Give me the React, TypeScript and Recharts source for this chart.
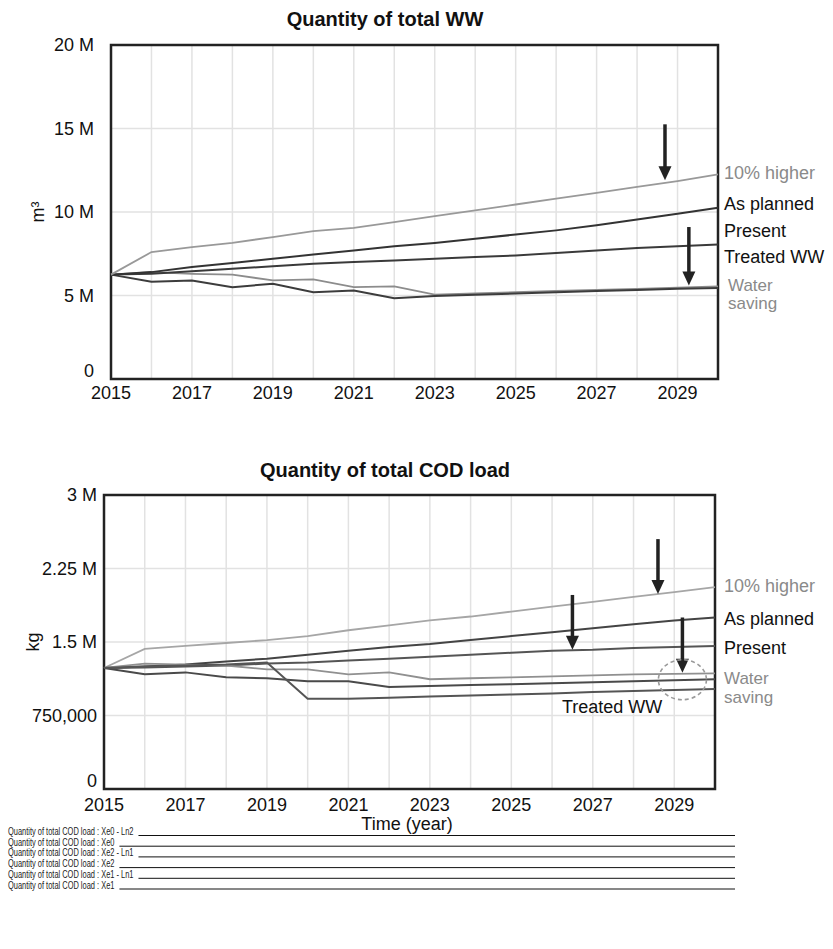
import React from 'react';
import {
  LineChart,
  Line,
  XAxis,
  YAxis,
  CartesianGrid,
  ReferenceArea,
  ReferenceLine,
  ReferenceDot,
} from 'recharts';

// ---------- shared categories ----------
const years = [2015, 2016, 2017, 2018, 2019, 2020, 2021, 2022, 2023, 2024, 2025, 2026, 2027, 2028, 2029, 2030];
const yearTickLabels = ['2015', '', '2017', '', '2019', '', '2021', '', '2023', '', '2025', '', '2027', '', '2029', ''];

// ---------- top chart: Quantity of total WW (m3) ----------
const wwHigher = [6.25e6, 7.6e6, 7.9e6, 8.15e6, 8.5e6, 8.85e6, 9.05e6, 9.4e6, 9.75e6, 10.1e6, 10.45e6, 10.8e6, 11.15e6, 11.5e6, 11.85e6, 12.25e6];
const wwPlanned = [6.25e6, 6.4e6, 6.7e6, 6.95e6, 7.2e6, 7.45e6, 7.7e6, 7.95e6, 8.15e6, 8.4e6, 8.65e6, 8.9e6, 9.2e6, 9.55e6, 9.9e6, 10.25e6];
const wwPresent = [6.25e6, 6.3e6, 6.45e6, 6.6e6, 6.75e6, 6.9e6, 7.0e6, 7.1e6, 7.2e6, 7.3e6, 7.4e6, 7.55e6, 7.7e6, 7.85e6, 7.95e6, 8.05e6];
const wwSavingA = [6.25e6, 6.4e6, 6.3e6, 6.25e6, 5.9e6, 5.97e6, 5.5e6, 5.55e6, 5.05e6, 5.12e6, 5.2e6, 5.27e6, 5.33e6, 5.4e6, 5.47e6, 5.55e6];
const wwSavingB = [6.25e6, 5.82e6, 5.9e6, 5.5e6, 5.7e6, 5.2e6, 5.3e6, 4.84e6, 4.97e6, 5.05e6, 5.12e6, 5.2e6, 5.27e6, 5.33e6, 5.4e6, 5.45e6];
const wwYTicks = [0, 5e6, 10e6, 15e6, 20e6];
const wwYTickLabels = ['0', '5 M', '10 M', '15 M', '20 M'];

// ---------- bottom chart: Quantity of total COD load (kg) ----------
const codNames = [
  'Quantity of total COD load : Xe0 - Ln2',
  'Quantity of total COD load : Xe0',
  'Quantity of total COD load : Xe2 - Ln1',
  'Quantity of total COD load : Xe2',
  'Quantity of total COD load : Xe1 - Ln1',
  'Quantity of total COD load : Xe1',
];
const codXe0Ln2 = [1.235e6, 1.43e6, 1.46e6, 1.49e6, 1.52e6, 1.56e6, 1.62e6, 1.67e6, 1.72e6, 1.76e6, 1.81e6, 1.86e6, 1.91e6, 1.96e6, 2.01e6, 2.06e6];
const codXe0 = [1.235e6, 1.25e6, 1.27e6, 1.3e6, 1.33e6, 1.37e6, 1.41e6, 1.45e6, 1.48e6, 1.52e6, 1.56e6, 1.6e6, 1.64e6, 1.68e6, 1.72e6, 1.75e6];
const codXe2Ln1 = [1.235e6, 1.24e6, 1.25e6, 1.26e6, 1.28e6, 1.29e6, 1.31e6, 1.33e6, 1.35e6, 1.37e6, 1.39e6, 1.41e6, 1.42e6, 1.44e6, 1.45e6, 1.46e6];
const codXe2 = [1.235e6, 1.28e6, 1.27e6, 1.26e6, 1.22e6, 1.22e6, 1.17e6, 1.19e6, 1.12e6, 1.13e6, 1.14e6, 1.15e6, 1.16e6, 1.17e6, 1.175e6, 1.18e6];
const codXe1Ln1 = [1.235e6, 1.17e6, 1.19e6, 1.14e6, 1.13e6, 1.1e6, 1.1e6, 1.04e6, 1.05e6, 1.06e6, 1.07e6, 1.08e6, 1.09e6, 1.1e6, 1.11e6, 1.12e6];
const codXe1 = [1.235e6, 1.25e6, 1.26e6, 1.27e6, 1.29e6, 0.92e6, 0.92e6, 0.93e6, 0.945e6, 0.955e6, 0.965e6, 0.975e6, 0.99e6, 1.0e6, 1.01e6, 1.02e6];
const codYTicks = [0, 750000, 1.5e6, 2.25e6, 3e6];
const codYTickLabels = ['0', '750,000', '1.5 M', '2.25 M', '3 M'];

// ---------- annotations (arrows: year, top value, tip value) ----------
const wwArrowYears = [2028.69, 2029.28];
const wwArrowTops = [15.25e6, 9.1e6];
const wwArrowTips = [11.9e6, 5.6e6];
const codArrowYears = [2028.6, 2026.5, 2029.2];
const codArrowTops = [2.55e6, 1.98e6, 1.75e6];
const codArrowTips = [1.99e6, 1.42e6, 1.185e6];
const codCircleYear = 2029.2;
const codCircleValue = 1.115e6;

const FONT = '"Liberation Sans", Arial, Helvetica, sans-serif';

const wwData = years.map((y, i) => ({
  year: y,
  higher: wwHigher[i],
  planned: wwPlanned[i],
  present: wwPresent[i],
  savingA: wwSavingA[i],
  savingB: wwSavingB[i],
}));

const codData = years.map((y, i) => ({
  year: y,
  s0: codXe0Ln2[i],
  s1: codXe0[i],
  s2: codXe2Ln1[i],
  s3: codXe2[i],
  s4: codXe1Ln1[i],
  s5: codXe1[i],
}));

const codSeries = [
  { key: 's0', color: '#a6a6a6', width: 1.8 },
  { key: 's1', color: '#444444', width: 2 },
  { key: 's2', color: '#555555', width: 2 },
  { key: 's3', color: '#909090', width: 1.8 },
  { key: 's4', color: '#4a4a4a', width: 2 },
  { key: 's5', color: '#555555', width: 2 },
];

const yearFmt = (v: number) => {
  const i = years.indexOf(v);
  return i >= 0 ? yearTickLabels[i] : '';
};

const makeYTick = (ticks: number[], labels: string[]) => (props: any) => {
  const { x, y, payload } = props;
  const i = ticks.indexOf(payload.value);
  const label = i >= 0 ? labels[i] : '';
  const shift = payload.value === 0 ? -8 : 0;
  return (
    <text x={x} y={y + shift} dy="0.355em" textAnchor="end" fontSize={18} fill="#111" fontFamily={FONT}>
      {label}
    </text>
  );
};
const wwYTick = makeYTick(wwYTicks, wwYTickLabels);
const codYTick = makeYTick(codYTicks, codYTickLabels);

const arrowShape = (p: any) => (
  <g>
    <line x1={p.x1} y1={p.y1} x2={p.x2} y2={p.y2 - 11} stroke="#222" strokeWidth={3.5} />
    <path d={`M${p.x2 - 6.5},${p.y2 - 14} L${p.x2 + 6.5},${p.y2 - 14} L${p.x2},${p.y2} Z`} fill="#222" />
  </g>
);

const circleShape = (p: any) => (
  <ellipse cx={p.cx} cy={p.cy} rx={24} ry={20} fill="none" stroke="#9a9a9a" strokeWidth={1.6} strokeDasharray="4 3" />
);

const tickStyle = { fontSize: 18, fill: '#111', fontFamily: FONT };

const absText = (
  text: string,
  left: number,
  top: number,
  style: React.CSSProperties = {}
) => (
  <div
    style={{
      position: 'absolute',
      left,
      top,
      transform: 'translateY(-50%)',
      fontFamily: FONT,
      fontSize: 18,
      color: '#111',
      whiteSpace: 'nowrap',
      lineHeight: 1,
      ...style,
    }}
  >
    {text}
  </div>
);

// legend text is a condensed face: measure in Arial and squeeze horizontally
const LEGEND_FONT_SIZE = 10;
const LEGEND_SQUEEZE = 0.745;
const LEGEND_ROW = 10.7;
const LEGEND_LEFT = 8;
const LEGEND_RIGHT = 735;
let measureCtx: CanvasRenderingContext2D | null = null;
const measureText = (t: string) => {
  if (typeof document === 'undefined') return t.length * 5;
  if (!measureCtx) measureCtx = document.createElement('canvas').getContext('2d');
  if (!measureCtx) return t.length * 5;
  measureCtx.font = `${LEGEND_FONT_SIZE}px "Liberation Sans", Arial, sans-serif`;
  return measureCtx.measureText(t).width;
};

const LegendBlock = () => (
  <svg width={833} height={70} style={{ position: 'absolute', left: 0, top: 826 }}>
    {codNames.map((n, i) => {
      const w = measureText(n) * LEGEND_SQUEEZE;
      const base = 9 + i * LEGEND_ROW;
      return (
        <g key={n}>
          <text
            x={LEGEND_LEFT}
            y={base}
            fontSize={LEGEND_FONT_SIZE}
            fontFamily={FONT}
            fill="#222"
            textLength={w}
            lengthAdjust="spacingAndGlyphs"
          >
            {n}
          </text>
          <line x1={LEGEND_LEFT + w + 5} x2={LEGEND_RIGHT} y1={base + 0.5} y2={base + 0.5} stroke="#111" strokeWidth={1} />
        </g>
      );
    })}
  </svg>
);

export default function App() {
  return (
    <div style={{ position: 'absolute', left: 0, top: 0, width: 833, height: 949, background: '#fff', overflow: 'hidden' }}>
      {/* ---------- Top chart ---------- */}
      <div style={{ position: 'absolute', left: 0, top: 0 }}>
        <LineChart width={833} height={420} data={wwData} margin={{ top: 45, right: 115, left: 51, bottom: 11 }}>
          <CartesianGrid stroke="#e2e2e2" strokeWidth={1.5} />
          <XAxis
            dataKey="year"
            type="number"
            domain={[2015, 2030]}
            ticks={years}
            interval={0}
            tickFormatter={yearFmt}
            tickLine={false}
            axisLine={false}
            tickSize={0}
            tickMargin={7}
            height={30}
            tick={tickStyle}
          />
          <YAxis
            type="number"
            domain={[0, 20e6]}
            ticks={wwYTicks}
            interval={0}
            tickLine={false}
            axisLine={false}
            tickSize={0}
            tickMargin={17}
            width={60}
            tick={wwYTick}
          />
          <Line dataKey="savingA" stroke="#8c8c8c" strokeWidth={1.8} dot={false} isAnimationActive={false} />
          <Line dataKey="savingB" stroke="#3c3c3c" strokeWidth={2} dot={false} isAnimationActive={false} />
          <Line dataKey="present" stroke="#3a3a3a" strokeWidth={2} dot={false} isAnimationActive={false} />
          <Line dataKey="planned" stroke="#333333" strokeWidth={2} dot={false} isAnimationActive={false} />
          <Line dataKey="higher" stroke="#999999" strokeWidth={1.8} dot={false} isAnimationActive={false} />
          <ReferenceArea x1={2015} x2={2030} y1={0} y2={20e6} fill="none" fillOpacity={0} stroke="#222" strokeWidth={2.5} ifOverflow="visible" />
          {wwArrowYears.map((yr, i) => (
            <ReferenceLine
              key={'wa' + i}
              segment={[
                { x: yr, y: wwArrowTops[i] },
                { x: yr, y: wwArrowTips[i] },
              ]}
              shape={arrowShape}
              ifOverflow="visible"
            />
          ))}
        </LineChart>
      </div>

      {absText('Quantity of total WW', 385, 19, { fontWeight: 'bold', fontSize: 20, transform: 'translate(-50%, -50%)' })}
      <div
        style={{
          position: 'absolute',
          left: 38,
          top: 212,
          transform: 'translate(-50%, -50%) rotate(-90deg)',
          fontFamily: FONT,
          fontSize: 18,
          color: '#111',
          lineHeight: 1,
        }}
      >
        m³
      </div>
      {absText('10% higher', 724, 173, { color: '#8a8a8a' })}
      {absText('As planned', 724, 204)}
      {absText('Present', 724, 231)}
      {absText('Treated WW', 724, 257)}
      {absText('Water', 728, 285, { color: '#8a8a8a', fontSize: 17 })}
      {absText('saving', 728, 303, { color: '#8a8a8a', fontSize: 17 })}

      {/* ---------- Bottom chart ---------- */}
      <div style={{ position: 'absolute', left: 0, top: 450 }}>
        <LineChart width={833} height={380} data={codData} margin={{ top: 45, right: 118, left: 44, bottom: 11 }}>
          <CartesianGrid stroke="#e2e2e2" strokeWidth={1.5} />
          <XAxis
            dataKey="year"
            type="number"
            domain={[2015, 2030]}
            ticks={years}
            interval={0}
            tickFormatter={yearFmt}
            tickLine={false}
            axisLine={false}
            tickSize={0}
            tickMargin={9}
            height={30}
            tick={tickStyle}
          />
          <YAxis
            type="number"
            domain={[0, 3e6]}
            ticks={codYTicks}
            interval={0}
            tickLine={false}
            axisLine={false}
            tickSize={0}
            tickMargin={7}
            width={60}
            tick={codYTick}
          />
          {codSeries.map((s, i) => (
            <Line
              key={s.key}
              dataKey={s.key}
              name={codNames[i]}
              stroke={s.color}
              strokeWidth={s.width}
              dot={false}
              isAnimationActive={false}
            />
          ))}
          <ReferenceArea x1={2015} x2={2030} y1={0} y2={3e6} fill="none" fillOpacity={0} stroke="#222" strokeWidth={2.5} ifOverflow="visible" />
          {codArrowYears.map((yr, i) => (
            <ReferenceLine
              key={'ca' + i}
              segment={[
                { x: yr, y: codArrowTops[i] },
                { x: yr, y: codArrowTips[i] },
              ]}
              shape={arrowShape}
              ifOverflow="visible"
            />
          ))}
          <ReferenceDot x={codCircleYear} y={codCircleValue} r={20} shape={circleShape} ifOverflow="visible" />
        </LineChart>
      </div>

      {absText('Quantity of total COD load', 385, 470, { fontWeight: 'bold', fontSize: 20, transform: 'translate(-50%, -50%)' })}
      <div
        style={{
          position: 'absolute',
          left: 33,
          top: 642,
          transform: 'translate(-50%, -50%) rotate(-90deg)',
          fontFamily: FONT,
          fontSize: 18,
          color: '#111',
          lineHeight: 1,
        }}
      >
        kg
      </div>
      {absText('10% higher', 724, 586, { color: '#8a8a8a' })}
      {absText('As planned', 724, 619)}
      {absText('Present', 724, 648)}
      {absText('Water', 724, 678, { color: '#8a8a8a', fontSize: 17 })}
      {absText('saving', 724, 697, { color: '#8a8a8a', fontSize: 17 })}
      {absText('Treated WW', 562, 707)}
      {absText('Time (year)', 407, 824, { transform: 'translate(-50%, -50%)' })}

      {/* ---------- Legend ---------- */}
      <LegendBlock />
    </div>
  );
}
